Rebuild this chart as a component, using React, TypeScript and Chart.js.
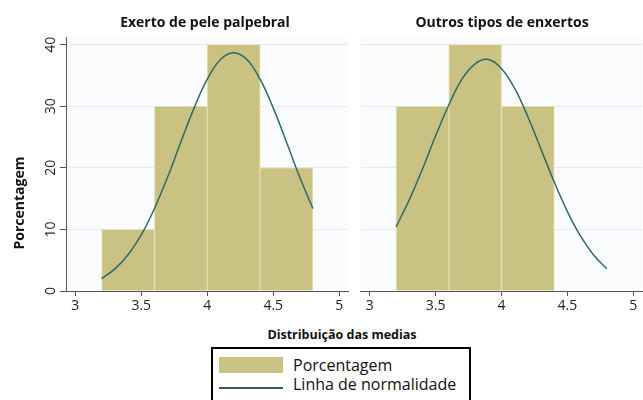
import React, { useEffect, useRef } from "react";
import { Chart, registerables } from "chart.js";

Chart.register(...registerables);

// ---- data ----
const binCenters = [3.4, 3.8, 4.2, 4.6];
const pctPalpebral = [10, 30, 40, 20];
const binCentersOutros = [3.4, 3.8, 4.2];
const pctOutros = [30, 40, 30];
const curveX = [3.2, 3.3, 3.4, 3.5, 3.6, 3.7, 3.8, 3.9, 4.0, 4.1, 4.2, 4.3, 4.4, 4.5, 4.6, 4.7, 4.8];
const curvePalpebral = [2.0, 3.6, 5.9, 9.1, 13.4, 18.5, 24.2, 29.7, 34.4, 37.6, 38.7, 37.6, 34.4, 29.7, 24.2, 18.5, 13.4];
const curveOutros = [10.4, 14.8, 19.8, 25.2, 30.2, 34.4, 36.9, 37.6, 36.1, 32.9, 28.3, 23.0, 17.7, 12.9, 8.9, 5.8, 3.6];
const xTicks = [3, 3.5, 4, 4.5, 5];
const yTicks = [0, 10, 20, 30, 40];

const BAR = "#c9c283";
const LINE = "#2f6b66";
const FONT = "'Open Sans', 'DejaVu Sans', sans-serif";

const bgPlugin = {
  id: "plotbg",
  beforeDraw(chart: any) {
    const { ctx, chartArea } = chart;
    ctx.save();
    ctx.fillStyle = "#fafbfd";
    ctx.fillRect(chartArea.left, chartArea.top, chartArea.right - chartArea.left, chartArea.bottom - chartArea.top);
    ctx.restore();
  },
};

function makeConfig(bins: number[], pct: number[], curve: number[], showY: boolean, rightPad: number): any {
  return {
    type: "bar",
    data: {
      datasets: [
        {
          type: "line",
          label: "Linha de normalidade",
          data: curveX.map((x, i) => ({ x, y: curve[i] })),
          borderColor: LINE,
          borderWidth: 1.5,
          pointRadius: 0,
          tension: 0.4,
          fill: false,
          order: 0,
        },
        {
          type: "bar",
          label: "Porcentagem",
          data: bins.map((x, i) => ({ x, y: pct[i] })),
          backgroundColor: BAR,
          borderColor: "#e2deae",
          borderWidth: 1,
          barPercentage: 1,
          categoryPercentage: 1,
          order: 1,
        },
      ],
    },
    options: {
      animation: false,
      responsive: false,
      events: [],
      layout: { padding: { top: 37, right: rightPad, left: 0, bottom: 0 } },
      plugins: { legend: { display: false }, tooltip: { enabled: false }, title: { display: false } },
      scales: {
        x: {
          type: "linear",
          min: 2.93,
          max: 5.066,
          offset: false,
          grid: { offset: false, drawOnChartArea: false, drawTicks: true, tickLength: 5, tickColor: "#555" },
          border: { display: true, color: "#555", width: 1 },
          ticks: {
            font: { family: FONT, size: 14 },
            color: "#222",
            padding: 2,
            maxRotation: 0,
            autoSkip: false,
            callback: (v: any) => String(Number(v)),
          },
          afterBuildTicks: (s: any) => {
            s.ticks = xTicks.map((v) => ({ value: v }));
          },
          afterFit: (s: any) => {
            s.height = 29;
          },
        },
        y: {
          type: "linear",
          min: 0,
          max: 41.25,
          grid: {
            color: "#e7ebf1",
            drawTicks: showY,
            tickLength: 6,
            tickColor: "#555",
          },
          border: { display: showY, color: "#555", width: 1 },
          ticks: {
            display: showY,
            font: { family: FONT, size: 14 },
            color: "#222",
            padding: 1,
            crossAlign: "center",
            minRotation: 90,
            maxRotation: 90,
            callback: (v: any) => String(Number(v)),
          },
          afterBuildTicks: (s: any) => {
            s.ticks = yTicks.map((v) => ({ value: v }));
          },
          afterFit: (s: any) => {
            s.width = showY ? 66 : 10.5;
          },
        },
      },
    },
    plugins: [bgPlugin],
  };
}

function Panel(props: { left: number; width: number; cfg: () => any }) {
  const ref = useRef<HTMLCanvasElement | null>(null);
  useEffect(() => {
    if (!ref.current) return;
    const chart = new Chart(ref.current, props.cfg());
    return () => chart.destroy();
  }, []);
  return (
    <canvas
      ref={ref}
      width={props.width}
      height={320}
      style={{ position: "absolute", left: props.left, top: 0, width: props.width, height: 320 }}
    />
  );
}

export default function App() {
  return (
    <div
      style={{
        position: "fixed",
        left: 0,
        top: 0,
        width: 643,
        height: 400,
        background: "#ffffff",
        overflow: "hidden",
        fontFamily: FONT,
        color: "#111",
      }}
    >
      <Panel left={0} width={350} cfg={() => makeConfig(binCenters, pctPalpebral, curvePalpebral, true, 2)} />
      <Panel left={350} width={293} cfg={() => makeConfig(binCentersOutros, pctOutros, curveOutros, false, 1)} />
      <div style={{ position: "absolute", left: 105, width: 200, top: 12, textAlign: "center", fontWeight: 700, fontSize: 14, lineHeight: "20px", whiteSpace: "nowrap" }}>
        Exerto de pele palpebral
      </div>
      <div style={{ position: "absolute", left: 402, width: 200, top: 12, textAlign: "center", fontWeight: 700, fontSize: 14, lineHeight: "20px", whiteSpace: "nowrap" }}>
        Outros tipos de enxertos
      </div>
      <div
        style={{
          position: "absolute",
          left: 18.5 - 60,
          top: 203 - 10,
          width: 120,
          height: 20,
          lineHeight: "20px",
          textAlign: "center",
          fontWeight: 700,
          fontSize: 14,
          transform: "rotate(-90deg)",
          whiteSpace: "nowrap",
        }}
      >
        Porcentagem
      </div>
      <div style={{ position: "absolute", left: 242, width: 200, top: 325, textAlign: "center", fontWeight: 700, fontSize: 12.5, lineHeight: "20px", whiteSpace: "nowrap" }}>
        Distribuição das medias
      </div>
      <div
        style={{
          position: "absolute",
          left: 211,
          top: 347,
          width: 256,
          height: 60,
          border: "2px solid #000",
          boxSizing: "content-box",
        }}
      >
        <div style={{ position: "absolute", left: 6, top: 8, width: 64, height: 16, background: BAR }} />
        <div style={{ position: "absolute", left: 6, top: 38, width: 64, height: 2, background: "#2b5f57" }} />
        <div style={{ position: "absolute", left: 80, top: 6, fontSize: 16, lineHeight: "20px", whiteSpace: "nowrap" }}>Porcentagem</div>
        <div style={{ position: "absolute", left: 80, top: 25, fontSize: 16, lineHeight: "20px", whiteSpace: "nowrap" }}>Linha de normalidade</div>
      </div>
    </div>
  );
}
